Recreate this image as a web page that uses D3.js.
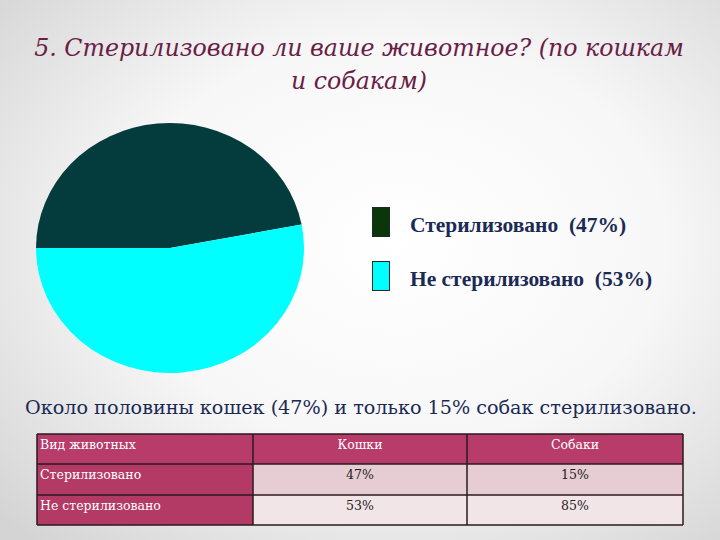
<!DOCTYPE html>
<html>
<head>
<meta charset="utf-8">
<script src="https://cdn.jsdelivr.net/npm/d3@7"></script>
<style>
  body { margin: 0; }
  svg { display: block; }
  text { font-family: 'DejaVu Serif', 'Liberation Serif', serif; }
  text.bold { font-family: 'Liberation Serif', 'DejaVu Serif', serif; }
</style>
</head>
<body>
<script>
// data
var sliceLabels = ['Стерилизовано', 'Не стерилизовано'];
var sliceValues = [47, 53];
var sliceColors = ['#043c3e', '#00ffff'];
var legendColors = ['#0a360a', '#00ffff'];

var tableHeader = ['Вид животных', 'Кошки', 'Собаки'];
var rowLabels = ['Стерилизовано', 'Не стерилизовано'];
var catsValues = ['47%', '53%'];
var dogsValues = ['15%', '85%'];

var W = 720, H = 540;
var svg = d3.select('body').append('svg')
  .attr('width', W)
  .attr('height', H);

// grow or shrink the font until the text spans the wanted width
function fitWidth(sel, width) {
  var size = parseFloat(sel.style('font-size'));
  var len = sel.node().getComputedTextLength();
  if (len > 0) sel.style('font-size', (size * width / len).toFixed(2) + 'px');
}

// background
var defs = svg.append('defs');
var grad = defs.append('radialGradient')
  .attr('id', 'bg')
  .attr('cx', '55%').attr('cy', '45%').attr('r', '75%');
grad.append('stop').attr('offset', '0%').attr('stop-color', '#ffffff');
grad.append('stop').attr('offset', '50%').attr('stop-color', '#f7f7f7');
grad.append('stop').attr('offset', '100%').attr('stop-color', '#d4d4d4');
svg.append('rect').attr('width', W).attr('height', H).attr('fill', 'url(#bg)');

// title
var t1 = svg.append('text')
  .attr('x', 359).attr('y', 56)
  .attr('text-anchor', 'middle')
  .style('font-style', 'italic')
  .style('font-size', '25px')
  .attr('fill', '#6a1e46')
  .text('5. Стерилизовано ли ваше животное? (по кошкам');
fitWidth(t1, 650);
var t2 = svg.append('text')
  .attr('x', 359).attr('y', 89)
  .attr('text-anchor', 'middle')
  .style('font-style', 'italic')
  .style('font-size', t1.style('font-size'))
  .attr('fill', '#6a1e46')
  .text('и собакам)');

// pie
var pie = d3.pie().sort(null)
  .startAngle(-Math.PI / 2)
  .endAngle(Math.PI * 1.5);
var arc = d3.arc().innerRadius(0).outerRadius(134);
var pieG = svg.append('g')
  .attr('transform', 'translate(170,248) scale(1,0.933)');
pieG.selectAll('path')
  .data(pie(sliceValues))
  .enter()
  .append('path')
  .attr('d', arc)
  .attr('fill', (d, i) => sliceColors[i]);

// legend
var legend = svg.append('g').attr('transform', 'translate(372,207)');
var item = legend.selectAll('g')
  .data(sliceLabels)
  .enter()
  .append('g')
  .attr('transform', (d, i) => 'translate(0,' + (i * 54) + ')');
item.append('rect')
  .attr('x', 0.5).attr('y', 0.5)
  .attr('width', 17).attr('height', 29)
  .attr('fill', (d, i) => legendColors[i])
  .attr('stroke', '#1a2a2a')
  .attr('stroke-width', 1);
var legText = item.append('text')
  .attr('class', 'bold')
  .attr('x', 38)
  .attr('y', 25)
  .attr('xml:space', 'preserve')
  .style('font-weight', 'bold')
  .style('font-size', '18px')
  .attr('fill', '#1b2a55')
  .text((d, i) => d + '  (' + sliceValues[i] + '%)');
fitWidth(d3.select(legText.nodes()[1]), 242);
d3.select(legText.nodes()[0]).style('font-size', d3.select(legText.nodes()[1]).style('font-size'));

// caption
var cap = svg.append('text')
  .attr('x', 361)
  .attr('y', 414)
  .attr('text-anchor', 'middle')
  .style('font-size', '20px')
  .attr('fill', '#1b2a55')
  .text('Около половины кошек (47%) и только 15% собак стерилизовано.');
fitWidth(cap, 672);

// table
var colX = [37, 253, 467, 683];
var rowY = [434, 464, 495, 525];
var tbl = svg.append('g');
var rows = [tableHeader].concat(rowLabels.map((r, i) => [r, catsValues[i], dogsValues[i]]));
var cellFill = function (r, c) {
  if (r === 0 || c === 0) return r === 0 ? '#b83c69' : '#b43a66';
  return r === 1 ? '#e6cdd3' : '#f2e5e8';
};
rows.forEach(function (row, r) {
  row.forEach(function (val, c) {
    var x0 = colX[c], x1 = colX[c + 1];
    var y0 = rowY[r], y1 = rowY[r + 1];
    tbl.append('rect')
      .attr('x', x0).attr('y', y0)
      .attr('width', x1 - x0).attr('height', y1 - y0)
      .attr('fill', cellFill(r, c));
    tbl.append('text')
      .attr('x', c === 0 ? x0 + 3 : (x0 + x1) / 2)
      .attr('y', y0 + 15)
      .attr('text-anchor', c === 0 ? 'start' : 'middle')
      .style('font-size', '12.5px')
      .attr('fill', (r === 0 || c === 0) ? '#ffffff' : '#222222')
      .text(val);
  });
});
// grid lines
colX.forEach(function (cx) {
  tbl.append('line')
    .attr('x1', cx).attr('x2', cx)
    .attr('y1', rowY[0]).attr('y2', rowY[3])
    .attr('stroke', '#2a1a1e').attr('stroke-width', 1.5);
});
rowY.forEach(function (cy) {
  tbl.append('line')
    .attr('x1', colX[0]).attr('x2', colX[3])
    .attr('y1', cy).attr('y2', cy)
    .attr('stroke', '#2a1a1e').attr('stroke-width', 1.5);
});
</script>
</body>
</html>
